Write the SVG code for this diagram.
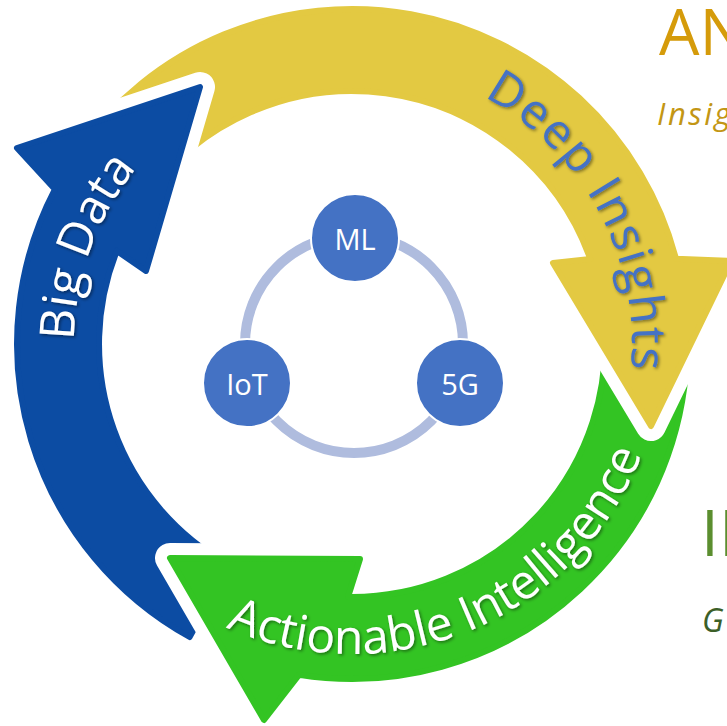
<svg xmlns="http://www.w3.org/2000/svg" width="727" height="726" viewBox="0 0 727 726">
<style>
.halo{fill:#fff;stroke:#fff;stroke-width:30;stroke-linejoin:round}
.yel{fill:#E3C942;stroke:#E3C942;stroke-width:6;stroke-linejoin:round}
.blu{fill:#0C4CA3;stroke:#0C4CA3;stroke-width:6;stroke-linejoin:round}
.grn{fill:#33C423;stroke:#33C423;stroke-width:6;stroke-linejoin:round}
.lbl{font-family:"Open Sans","Noto Sans","DejaVu Sans",sans-serif;font-size:48px;text-anchor:middle}
.ring{fill:none;stroke:#AFBCDE;stroke-width:10}
.node circle{fill:#4472C4;stroke:#fff;stroke-width:2}
.node text{font-family:"Open Sans","Noto Sans","DejaVu Sans",sans-serif;font-size:29px;fill:#fff;text-anchor:middle;dominant-baseline:central}
.side{font-family:"Open Sans","Noto Sans","DejaVu Sans",sans-serif}
</style>
<defs>
<path id="pY" d="M77.6,151.9 A335,335 0 0 1 676,258.8 L731,261 L651,426 L553,263 L590.3,259 A253,253 0 0 0 144.8,198.9 Z"/>
<path id="pB" d="M189.6,637 A335,335 0 0 1 54.9,189.3 L17,148 L200,87 L146,271 L116.8,250.9 A253,253 0 0 0 229.3,565.3 Z"/>
<path id="pG" d="M685.7,314.8 A335,335 0 0 1 299,674.8 L264,720 L170,558 L360,559 L348,597 A253,253 0 0 0 604,321.9 Z"/>
<path id="tBig" d="M139,522.7 A278,278 0 0 1 303.7,70.2"/>
<path id="tDeep" d="M366.7,64.4 A280,280 0 0 1 586.8,496.5"/>
<path id="tAct" d="M161.1,588.3 A310,310 0 0 0 659,387.1"/>
<clipPath id="clipR"><rect x="460" y="0" width="267" height="726"/></clipPath>
<filter id="sh" x="-10%" y="-10%" width="120%" height="120%">
<feDropShadow dx="1.5" dy="1.5" stdDeviation="1.5" flood-color="#000" flood-opacity="0.45"/>
</filter>
</defs>

<g id="arrow-deep-insights">
<use href="#pY" class="halo"/>
<use href="#pY" class="yel"/>
</g>
<g id="arrow-big-data">
<use href="#pB" class="halo"/>
<use href="#pB" class="blu"/>
</g>
<g id="arrow-actionable-intelligence">
<use href="#pG" class="halo"/>
<use href="#pG" class="grn"/>
</g>
<g id="arrow-deep-insights-head" clip-path="url(#clipR)">
<use href="#pY" class="halo"/>
<use href="#pY" class="yel"/>
</g>

<g id="arrow-labels">
<text class="lbl" fill="#fff" font-size="49" filter="url(#sh)"><textPath href="#tBig" startOffset="50%">Big Data</textPath></text>
<text class="lbl" fill="#4472C4" letter-spacing="2" filter="url(#sh)"><textPath href="#tDeep" startOffset="49%">Deep Insights</textPath></text>
<text class="lbl" fill="#fff" font-size="45" filter="url(#sh)"><textPath href="#tAct" startOffset="50.5%">Actionable Intelligence</textPath></text>
</g>

<g id="connectors">
<circle class="ring" cx="354" cy="344" r="109"/>
</g>

<g id="node-ml" class="node">
<circle cx="355" cy="238" r="44"/>
<text x="355" y="238">ML</text>
</g>
<g id="node-iot" class="node">
<circle cx="247" cy="383" r="44"/>
<text x="247" y="383">IoT</text>
</g>
<g id="node-5g" class="node">
<circle cx="460" cy="383" r="44"/>
<text x="460" y="383">5G</text>
</g>

<g id="side-labels" class="side">
<text x="659" y="55" font-size="64" fill="#D59B0A">AN</text>
<text x="657" y="125" font-size="31" font-style="italic" letter-spacing="2.5" fill="#C39614">Insig</text>
<text x="701" y="556" font-size="64" fill="#5B8E2F">IN</text>
<text x="702" y="632" font-size="32" font-style="italic" fill="#3C5F28">G</text>
</g>
</svg>
